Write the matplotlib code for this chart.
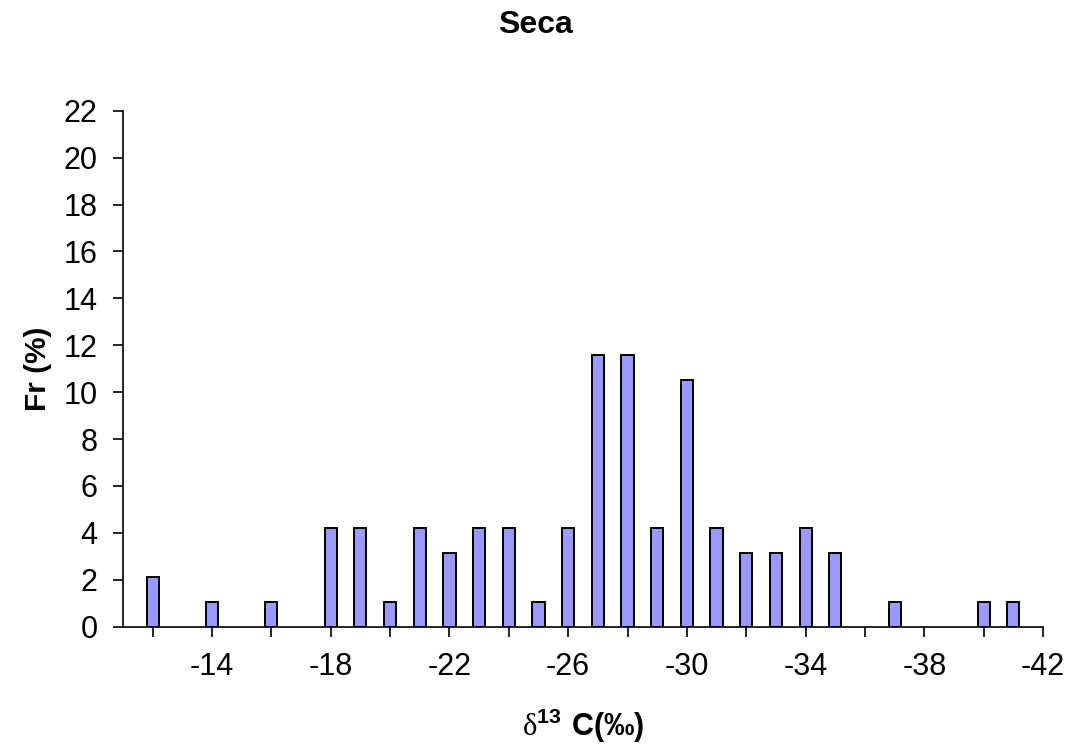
import matplotlib
matplotlib.use("Agg")
import matplotlib.pyplot as plt
import numpy as np

# ── Data: delta 13C classes and relative frequency (%) ───────────────────────
d13c = [-12, -13, -14, -15, -16, -17, -18, -19, -20, -21, -22, -23, -24, -25,
        -26, -27, -28, -29, -30, -31, -32, -33, -34, -35, -36, -37, -38, -39,
        -40, -41]
freq = [2.11, 0, 1.05, 0, 1.05, 0, 4.21, 4.21, 1.05, 4.21, 3.16, 4.21, 4.21,
        1.05, 4.21, 11.58, 11.58, 4.21, 10.53, 4.21, 3.16, 3.16, 4.21, 3.16,
        0, 1.05, 0, 0, 1.05, 1.05]
minor_ticks = list(range(-12, -43, -2))
major_ticks = list(range(-14, -43, -4))
y_ticks = list(range(0, 23, 2))

plt.rcParams["font.family"] = ["Liberation Sans", "DejaVu Sans"]
plt.rcParams["mathtext.fontset"] = "custom"
plt.rcParams["mathtext.rm"] = "Liberation Serif"
plt.rcParams["mathtext.bf"] = "Liberation Sans:bold"
plt.rcParams["mathtext.sf"] = "Liberation Sans"

fig = plt.figure(figsize=(10.71, 7.47), dpi=100)
ax = fig.add_axes([0.1148, 0.161, 0.8591, 0.6908])

# empty classes are not drawn (no outline on the baseline)
xs = [x for x, f in zip(d13c, freq) if f > 0]
fs = [f for f in freq if f > 0]
ax.bar(xs, fs, width=0.41, color="#9999FF", edgecolor="black",
       linewidth=1.4, zorder=3)

ax.set_xlim(-11, -42)
ax.set_ylim(0, 22)

# x ticks every 2, labels every 4
ax.set_xticks(minor_ticks)
ax.set_xticklabels([str(t) if t in major_ticks else "" for t in minor_ticks])
ax.set_yticks(y_ticks)

ax.tick_params(axis="both", direction="out", length=7.2, width=1.2,
               labelsize=22, colors="black")
ax.tick_params(axis="x", pad=11)
ax.tick_params(axis="y", pad=11)

ax.spines[["top", "right"]].set_visible(False)
ax.spines[["left", "bottom"]].set_linewidth(1.2)

ax.set_ylabel("Fr (%)", fontsize=21.5, fontweight="bold", labelpad=8)
ax.set_xlabel(r"$\mathrm{\delta}^{\mathbf{13}}\ \mathbf{C(‰)}$", fontsize=22,
              labelpad=18)
fig.text(0.5, 0.966, "Seca", ha="center", va="center", fontsize=23,
         fontweight="bold")

fig.savefig("out.png", dpi=100)
